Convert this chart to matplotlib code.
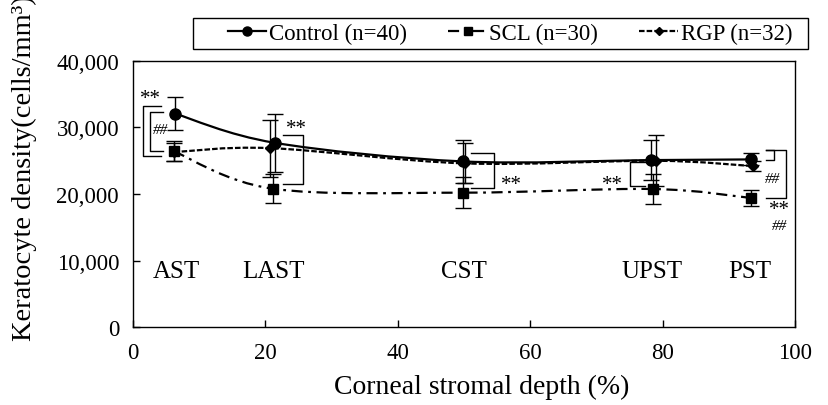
import matplotlib
matplotlib.use("Agg")
import matplotlib.pyplot as plt
from matplotlib.path import Path
from matplotlib.patches import PathPatch, Rectangle
from matplotlib.lines import Line2D
from matplotlib.ticker import FuncFormatter

plt.rcParams['font.family'] = ['Liberation Serif', 'DejaVu Serif']
plt.rcParams['lines.scale_dashes'] = False

# data
regions = ['AST', 'LAST', 'CST', 'UPST', 'PST']
region_x = [6.5, 21.2, 50.0, 78.4, 93.2]

ctrl_x = [6.3, 21.4, 49.8, 78.3, 93.4]
ctrl_y = [32100, 27700, 24900, 25100, 25200]
ctrl_err = [2500, 4400, 3250, 3000, 900]

scl_x = [6.2, 21.1, 49.8, 78.5, 93.4]
scl_y = [26400, 20800, 20200, 20750, 19400]
scl_err = [1500, 2200, 2300, 2200, 1200]

rgp_x = [6.2, 20.7, 50.2, 79.0, 93.6]
rgp_y = [26300, 26900, 24600, 25000, 24200]
rgp_err = [1400, 4300, 3000, 3800, 800]


def smooth_path(xs, ys):
    # Excel-like smoothed line: Catmull-Rom turned into cubic Bezier pieces
    pts = list(zip(xs, ys))
    verts = [pts[0]]
    codes = [Path.MOVETO]
    n = len(pts)
    for i in range(n - 1):
        p0 = pts[i - 1] if i > 0 else pts[i]
        p1 = pts[i]
        p2 = pts[i + 1]
        p3 = pts[i + 2] if i + 2 < n else pts[i + 1]
        c1 = (p1[0] + (p2[0] - p0[0]) / 6, p1[1] + (p2[1] - p0[1]) / 6)
        c2 = (p2[0] - (p3[0] - p1[0]) / 6, p2[1] - (p3[1] - p1[1]) / 6)
        verts += [c1, c2, p2]
        codes += [Path.CURVE4] * 3
    return Path(verts, codes)


fig = plt.figure(figsize=(8.29, 4.06), dpi=100)
ax = fig.add_axes([0.1604, 0.1921, 0.7986, 0.6552])

series = [
    ('Control (n=40)', ctrl_x, ctrl_y, ctrl_err, '-', 'o', 8),
    ('SCL (n=30)', scl_x, scl_y, scl_err, (0, (8, 4, 2, 4)), 's', 7),
    ('RGP (n=32)', rgp_x, rgp_y, rgp_err, (0, (4, 1.5)), 'D', 5.5),
]
handles = []
for label, xs, ys, err, ls, mk, ms in series:
    ax.add_patch(PathPatch(smooth_path(xs, ys), fill=False, edgecolor='black',
                           lw=1.6, linestyle=ls, zorder=2))
    ax.errorbar(xs, ys, yerr=err, fmt='none', ecolor='black', elinewidth=1,
                capsize=6, capthick=1, zorder=3)
    ax.plot(xs, ys, linestyle='none', marker=mk, ms=ms, color='black', zorder=4)
    handles.append(Line2D([], [], color='black', lw=1.6, linestyle=ls,
                          marker=mk, ms=ms - 1.5, label=label))

# significance brackets
k = dict(color='black', lw=1, zorder=2)
ax.plot([4.3, 1.45, 1.45, 4.3], [33230, 33230, 25700, 25700], **k)
ax.plot([4.5, 2.6, 2.6, 4.5], [32400, 32400, 26500, 26500], **k)
ax.plot([22.7, 25.7, 25.7, 22.7], [28870, 28870, 21500, 21500], **k)
ax.plot([51.1, 54.5, 54.5, 51.1], [26100, 26100, 20860, 20860], **k)
ax.plot([77.4, 75.0, 75.0, 77.4], [24770, 24770, 21250, 21250], **k)
ax.plot([95.6, 96.9, 96.9, 95.6], [26620, 26620, 25150, 25150], **k)
ax.plot([95.6, 98.7, 98.7, 95.6], [26620, 26620, 19350, 19350], **k)

star = dict(ha='center', va='center', fontsize=15)
hash_ = dict(ha='center', va='center', fontsize=11, style='italic')
ax.text(2.7, 34300, '**', **star)
ax.text(4.1, 29700, '##', **hash_)
ax.text(24.7, 29800, '**', **star)
ax.text(57.2, 21500, '**', **star)
ax.text(72.5, 21500, '**', **star)
ax.text(96.6, 22300, '##', **hash_)
ax.text(97.7, 17700, '**', **star)
ax.text(97.7, 15300, '##', **hash_)

for name, xr in zip(regions, region_x):
    ax.text(xr, 8400, name, ha='center', va='center', fontsize=18)

ax.set_xlim(0, 100)
ax.set_ylim(0, 40000)
ax.set_xticks([0, 20, 40, 60, 80, 100])
ax.set_yticks([0, 10000, 20000, 30000, 40000])
ax.yaxis.set_major_formatter(FuncFormatter(lambda v, p: f'{int(v):,}'))
ax.tick_params(direction='in', length=5, width=1, labelsize=16.5)
ax.tick_params(axis='x', pad=11)
ax.tick_params(axis='y', pad=10)
for s in ax.spines.values():
    s.set_linewidth(1)

ax.set_xlabel('Corneal stromal depth (%)', fontsize=20)
ax.xaxis.set_label_coords(0.526, -0.175)
ax.set_ylabel('Keratocyte density(cells/mm³)', fontsize=20.5)
ax.yaxis.set_label_coords(-0.145, 0.6)

# legend box is wider than its entries, so the frame is drawn on its own
fig.patches.append(Rectangle((0.2328, 0.8768), 0.7419, 0.0764,
                             transform=fig.transFigure, fill=False,
                             edgecolor='black', lw=1))
fig.legend(handles=handles, loc='center', bbox_to_anchor=(0.615, 0.915),
           ncol=3, fontsize=16.5, frameon=False, handlelength=1.7,
           handletextpad=0.1, columnspacing=1.8, borderpad=0,
           borderaxespad=0)

fig.savefig('out.png', dpi=100)
